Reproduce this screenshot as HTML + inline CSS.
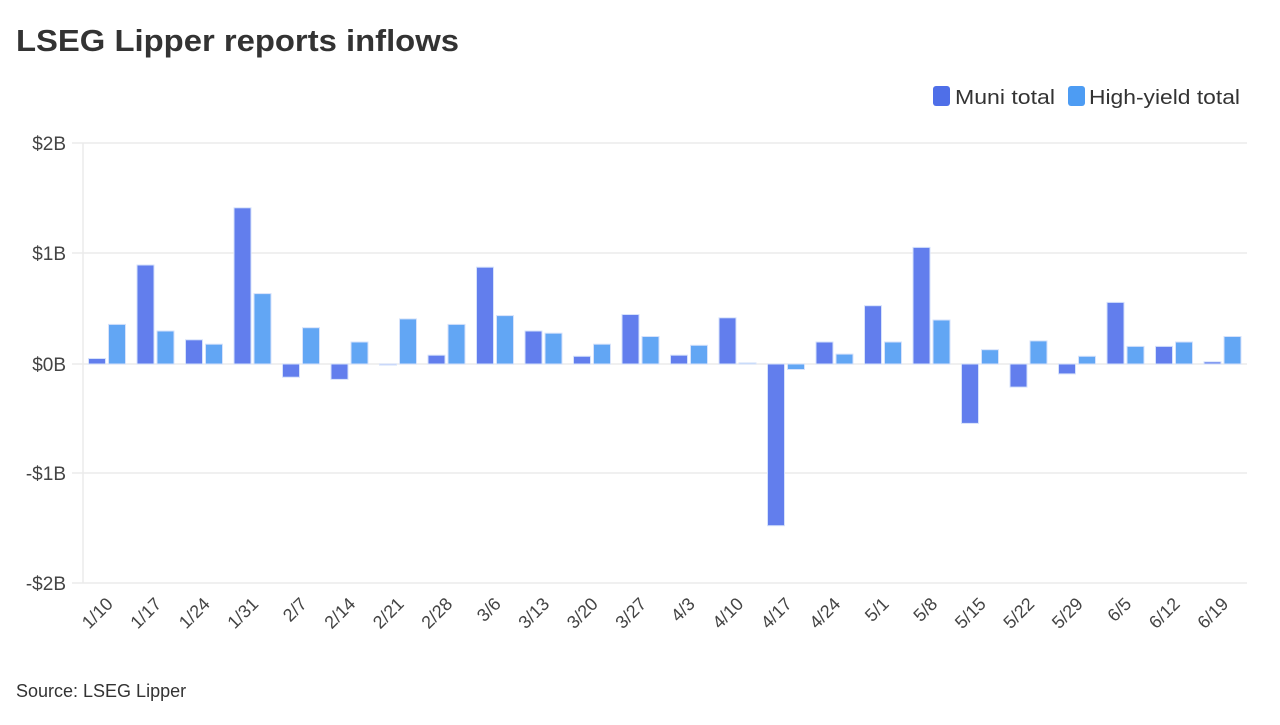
<!DOCTYPE html>
<html><head><meta charset="utf-8"><style>
body{margin:0;background:#fff;font-family:"Liberation Sans",sans-serif;}
</style></head><body>
<svg width="1280" height="720" xmlns="http://www.w3.org/2000/svg" font-family="Liberation Sans, sans-serif">
<text x="16" y="51" font-size="31" font-weight="bold" fill="#333" textLength="443" lengthAdjust="spacingAndGlyphs">LSEG Lipper reports inflows</text>
<rect x="933" y="86" width="17" height="20" rx="3" fill="#4f6fe8"/>
<text x="955" y="104" font-size="20" fill="#333" textLength="100" lengthAdjust="spacingAndGlyphs">Muni total</text>
<rect x="1068" y="86" width="17" height="20" rx="3" fill="#4d9cf3"/>
<text x="1089" y="104" font-size="20" fill="#333" textLength="151" lengthAdjust="spacingAndGlyphs">High-yield total</text>
<g stroke="#ebebeb" stroke-width="1.5">
<line x1="72" y1="143" x2="1247" y2="143"/>
<line x1="72" y1="253" x2="1247" y2="253"/>
<line x1="72" y1="364" x2="1247" y2="364"/>
<line x1="72" y1="473" x2="1247" y2="473"/>
<line x1="72" y1="583" x2="1247" y2="583"/>
<line x1="83" y1="143" x2="83" y2="583"/>
</g>
<g font-size="19" fill="#444" text-anchor="end">
<text x="66" y="150">$2B</text><text x="66" y="260">$1B</text><text x="66" y="371">$0B</text><text x="66" y="480">-$1B</text><text x="66" y="590">-$2B</text>
</g>
<g id="bars"></g>
<g id="labs" font-size="18" fill="#444" text-anchor="end"></g>
<text x="16" y="697" font-size="18" fill="#333">Source: LSEG Lipper</text>
<script>
var d=[["1/10",0.05,0.36],["1/17",0.9,0.3],["1/24",0.22,0.18],["1/31",1.42,0.64],["2/7",-0.12,0.33],["2/14",-0.14,0.2],["2/21",-0.01,0.41],["2/28",0.08,0.36],["3/6",0.88,0.44],["3/13",0.3,0.28],["3/20",0.07,0.18],["3/27",0.45,0.25],["4/3",0.08,0.17],["4/10",0.42,0.01],["4/17",-1.47,-0.05],["4/24",0.2,0.09],["5/1",0.53,0.2],["5/8",1.06,0.4],["5/15",-0.54,0.13],["5/22",-0.21,0.21],["5/29",-0.09,0.07],["6/5",0.56,0.16],["6/12",0.16,0.2],["6/19",0.02,0.25]];
var ns="http://www.w3.org/2000/svg",b=document.getElementById("bars"),l=document.getElementById("labs");
function r(x,v,c){var e=document.createElementNS(ns,"rect");var y0=364,h=Math.abs(v)*110;e.setAttribute("x",x);e.setAttribute("width",17);e.setAttribute("y",v>=0?y0-h:y0);e.setAttribute("height",Math.max(h,1));e.setAttribute("fill",c);e.setAttribute("stroke","#d6e2fb");e.setAttribute("stroke-width","1");b.appendChild(e);}
d.forEach(function(a,i){var c=107+48.5*i;r(c-18.5,a[1],"#627eed");r(c+1.5,a[2],"#62a6f4");
var t=document.createElementNS(ns,"text");t.setAttribute("transform","translate("+(c+7)+",605) rotate(-45)");t.textContent=a[0];l.appendChild(t);});
</script>
</svg>
</body></html>
